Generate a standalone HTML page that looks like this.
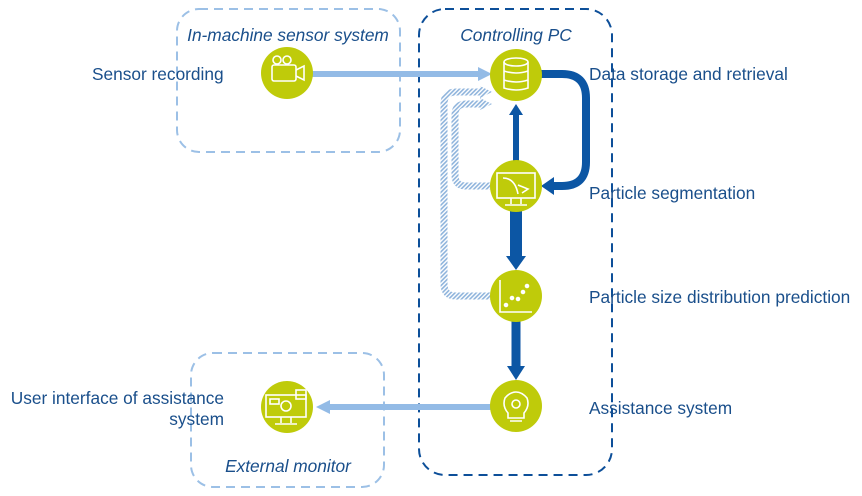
<!DOCTYPE html>
<html><head><style>body{margin:0;background:#fff}svg{display:block}text{font-family:"Liberation Sans",sans-serif;font-size:17.3px;fill:#1a4f8b}</style></head><body>
<svg width="862" height="496" viewBox="0 0 862 496">
<defs>
<pattern id="h" width="3" height="3" patternUnits="userSpaceOnUse" patternTransform="rotate(45)"><rect width="3" height="3" fill="#fff"/><rect width="1.6" height="3" fill="#8fb4dc"/></pattern>
</defs>
<rect x="177" y="9" width="223" height="143" rx="22" fill="none" stroke="#9cc0e6" stroke-width="2" stroke-dasharray="9,6"/>
<rect x="419" y="9" width="193" height="466" rx="26" fill="none" stroke="#0d4f99" stroke-width="2" stroke-dasharray="9,6"/>
<rect x="191" y="353" width="193" height="134" rx="22" fill="none" stroke="#9cc0e6" stroke-width="2" stroke-dasharray="9,6"/>
<text x="288" y="41" text-anchor="middle" font-style="italic" font-size="16.5">In-machine sensor system</text>
<text x="516" y="41" text-anchor="middle" font-style="italic" font-size="16.5">Controlling PC</text>
<text x="288" y="472" text-anchor="middle" font-style="italic" font-size="16.5">External monitor</text>
<text x="92" y="80">Sensor recording</text>
<text x="589" y="80">Data storage and retrieval</text>
<text x="589" y="199">Particle segmentation</text>
<text x="589" y="303">Particle size distribution prediction</text>
<text x="589" y="414">Assistance system</text>
<text x="224" y="404" text-anchor="end">User interface of assistance</text>
<text x="224" y="425" text-anchor="end">system</text>
<path d="M492 296 H456 Q444 296 444 284 V104 Q444 92 456 92 H482" fill="none" stroke="url(#h)" stroke-width="7"/>
<polygon points="480,86 492,92 480,98" fill="url(#h)"/>
<path d="M492 186 H466 Q455 186 455 175 V115 Q455 104 466 104 H482" fill="none" stroke="url(#h)" stroke-width="7"/>
<polygon points="480,98 492,104 480,110" fill="url(#h)"/>
<line x1="312" y1="74" x2="480" y2="74" stroke="#93bbe6" stroke-width="6"/>
<polygon points="478,67 492,74 478,81" fill="#93bbe6"/>
<line x1="492" y1="407" x2="328" y2="407" stroke="#93bbe6" stroke-width="6"/>
<polygon points="330,400 316,407 330,414" fill="#93bbe6"/>
<path d="M540 74 H562 Q586 74 586 98 V162 Q586 186 562 186 H552" fill="none" stroke="#0c56a4" stroke-width="8"/>
<polygon points="554,177 541,186 554,195" fill="#0c56a4"/>
<line x1="516" y1="162" x2="516" y2="114" stroke="#0c56a4" stroke-width="6"/>
<polygon points="509,115 516,104 523,115" fill="#0c56a4"/>
<line x1="516" y1="210" x2="516" y2="258" stroke="#0c56a4" stroke-width="12"/>
<polygon points="506,256 516,270 526,256" fill="#0c56a4"/>
<line x1="516" y1="320" x2="516" y2="368" stroke="#0c56a4" stroke-width="9"/>
<polygon points="507,366 516,380 525,366" fill="#0c56a4"/>
<g fill="#bfcb0a">
<circle cx="516" cy="75" r="26"/><circle cx="516" cy="186" r="26"/><circle cx="516" cy="296" r="26"/><circle cx="516" cy="406" r="26"/>
<circle cx="287" cy="73" r="26"/><circle cx="287" cy="407" r="26"/>
</g>
<g fill="none" stroke="#fff" stroke-width="1.6">
<ellipse cx="516" cy="62" rx="12" ry="4"/><path d="M504 62 V88 Q516 92 528 88 V62 M504 71 Q516 75 528 71 M504 80 Q516 84 528 80"/>
<rect x="497" y="173" width="38" height="25"/><path d="M511 198 V204 M521 198 V204 M505 205 H527 M503 178 Q515 178 518 194 M518 185 L528 189 L522 193"/>
<path d="M500 280 V312 H532"/><circle cx="506" cy="305" r="1.5" fill="#fff"/><circle cx="512" cy="298" r="1.5" fill="#fff"/><circle cx="518" cy="299" r="1.5" fill="#fff"/><circle cx="523" cy="292" r="1.5" fill="#fff"/><circle cx="527" cy="286" r="1.5" fill="#fff"/>
<path d="M508 413 Q502 406 505 398 Q510 392 516 392 Q522 392 527 398 Q530 406 524 413 V418 H508Z M510 421 H522"/><circle cx="516" cy="404" r="4"/>
<rect x="272" y="65" width="24" height="16" rx="2"/><circle cx="277" cy="60" r="4"/><circle cx="287" cy="60" r="4"/><path d="M296 70 L304 66 V80 L296 76"/>
<rect x="266" y="395" width="40" height="22"/><path d="M281 417 V423 M291 417 V423 M275 424 H297"/><circle cx="286" cy="406" r="5"/><rect x="270" y="399" width="9" height="5"/><rect x="296" y="390" width="10" height="9"/>
</g>
</svg>
</body></html>
